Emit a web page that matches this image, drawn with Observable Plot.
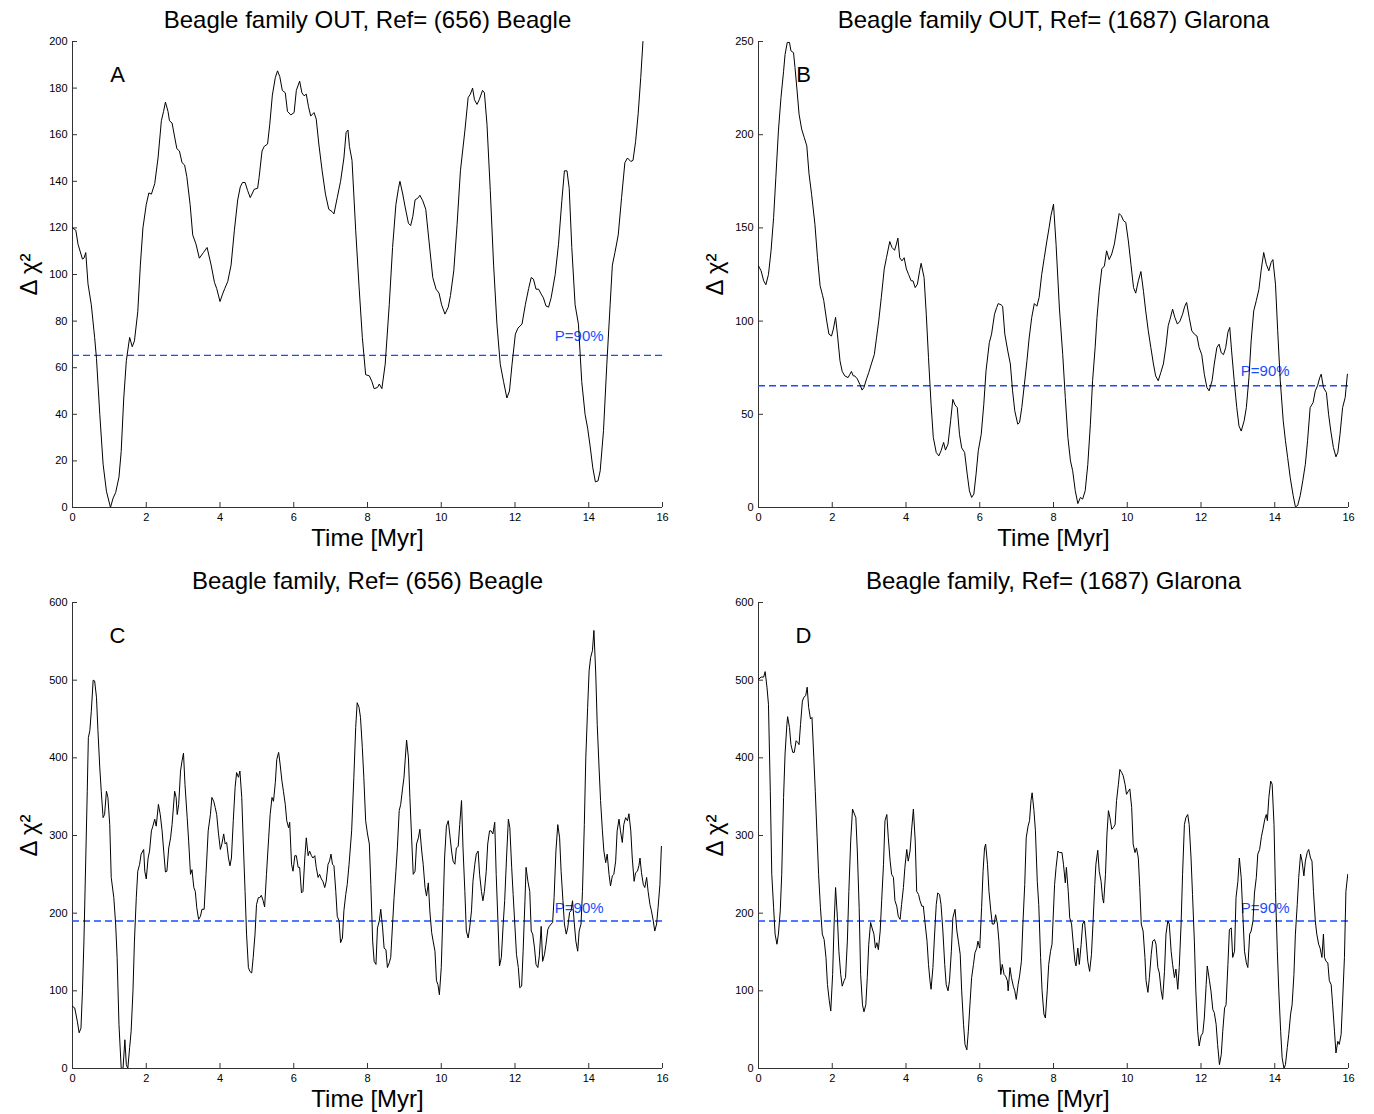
<!DOCTYPE html>
<html>
<head>
<meta charset="utf-8">
<script src="https://cdn.jsdelivr.net/npm/d3@7"></script>
<script src="https://cdn.jsdelivr.net/npm/@observablehq/plot@0.6"></script>
<style>
  html, body { margin: 0; padding: 0; background: #fff; overflow: hidden; }
  #wrap { position: relative; width: 1374px; height: 1114px; background: #fff; }
  .panel { position: absolute; }
</style>
</head>
<body>
<div id="wrap"></div>
<script>
// ---------------- DATA ----------------
const xTicks = [0, 2, 4, 6, 8, 10, 12, 14, 16];
const yTicksA = [0, 20, 40, 60, 80, 100, 120, 140, 160, 180, 200];
const yTicksB = [0, 50, 100, 150, 200, 250];
const yTicksCD = [0, 100, 200, 300, 400, 500, 600];

const titles = [
  "Beagle family OUT, Ref= (656) Beagle",
  "Beagle family OUT, Ref= (1687) Glarona",
  "Beagle family, Ref= (656) Beagle",
  "Beagle family, Ref= (1687) Glarona"
];
const letters = ["A", "B", "C", "D"];
const thresholds = [65.3, 65.3, 190, 190];   // P=90% level
const thresholdLabel = "P=90%";
const thresholdLabelTime = 13.08;

// [time (Myr), delta chi^2]
const seriesA = [[0,120],[0.09,119],[0.15,113],[0.27,106.6],[0.31,107],[0.36,109.4],[0.42,96],[0.51,87],[0.6,73],[0.65,64],[0.74,40],[0.83,18.6],[0.92,7],[1.03,0],[1.1,4],[1.17,6.4],[1.26,13],[1.32,24],[1.39,47],[1.46,63],[1.55,73],[1.62,69],[1.68,71.5],[1.77,84],[1.84,104],[1.91,120],[2.0,130],[2.07,135],[2.14,134.5],[2.23,139],[2.32,150],[2.41,166],[2.47,170],[2.52,174],[2.59,170],[2.63,166],[2.7,165],[2.77,159],[2.83,154],[2.9,153],[2.97,148],[3.04,147],[3.1,142],[3.19,130],[3.26,117],[3.35,113],[3.44,107],[3.55,109.4],[3.65,111.6],[3.76,104],[3.85,96.6],[3.91,94],[4.0,88.4],[4.07,91.6],[4.13,94],[4.21,97],[4.3,104],[4.39,119],[4.48,132],[4.55,137.6],[4.61,139.5],[4.68,139.5],[4.75,136],[4.82,133],[4.93,136.6],[5.02,137],[5.06,141.6],[5.14,153],[5.2,155],[5.29,156],[5.35,164.5],[5.42,177],[5.5,184.5],[5.56,187.4],[5.62,185],[5.69,179],[5.77,178],[5.83,170],[5.92,168.5],[6.01,169.5],[6.07,179],[6.16,183],[6.22,178],[6.28,176.7],[6.34,177.4],[6.4,172],[6.46,168],[6.55,169.5],[6.61,166.7],[6.68,156],[6.77,144.5],[6.86,134.5],[6.95,128],[7.04,127],[7.09,126],[7.18,133],[7.27,140],[7.36,150],[7.42,161],[7.47,162],[7.51,155],[7.58,149],[7.68,119],[7.77,95],[7.86,73],[7.95,57],[8.05,56.5],[8.12,54],[8.18,51],[8.27,51.5],[8.32,53],[8.39,51],[8.48,61.5],[8.59,87],[8.68,111.6],[8.77,130],[8.84,137],[8.88,140],[8.95,135],[9.02,129],[9.11,122],[9.17,121],[9.23,125],[9.29,132],[9.38,133],[9.42,134],[9.5,131.6],[9.58,128],[9.67,114],[9.77,98.7],[9.86,93.7],[9.94,92],[10.01,87],[10.1,83],[10.19,86],[10.25,91],[10.34,101.6],[10.43,121.6],[10.52,144.5],[10.64,161.6],[10.73,176],[10.79,177.4],[10.85,180],[10.9,175],[10.97,173],[11.03,175],[11.12,179],[11.17,178],[11.24,164.5],[11.33,136],[11.42,104],[11.51,78.7],[11.6,61.5],[11.69,54],[11.78,47],[11.85,50],[11.92,61.5],[12.01,74.4],[12.08,77],[12.19,78.7],[12.28,87],[12.37,94],[12.44,98.7],[12.5,98],[12.57,93.7],[12.64,93.7],[12.71,91.6],[12.77,90],[12.84,86.5],[12.91,86],[12.98,90],[13.09,100],[13.18,113],[13.27,131.6],[13.34,144.5],[13.41,144.5],[13.47,137],[13.54,111.6],[13.63,87],[13.72,78.7],[13.81,54],[13.9,40],[13.97,34],[14.04,26],[14.11,17],[14.18,11],[14.25,11.4],[14.31,15.7],[14.4,33],[14.49,61.5],[14.58,87],[14.64,104],[14.71,109.4],[14.8,117],[14.89,133],[14.98,148],[15.05,150],[15.14,148.5],[15.2,149],[15.27,157],[15.34,169],[15.41,184.5],[15.47,200]];

const seriesB = [[0,129.6],[0.07,127],[0.14,121.6],[0.2,119.5],[0.27,125],[0.34,137.7],[0.41,155.6],[0.47,177],[0.54,202],[0.61,220],[0.68,234],[0.72,243],[0.78,249.5],[0.84,249.5],[0.88,245],[0.95,244],[0.99,236],[1.04,225],[1.1,211],[1.17,203],[1.24,198.5],[1.31,194],[1.37,179],[1.44,168],[1.53,152],[1.6,134],[1.67,119],[1.74,113.6],[1.77,111],[1.85,100],[1.91,93],[1.98,92],[2.03,95.7],[2.09,102],[2.14,93],[2.21,78.7],[2.27,73],[2.34,70.6],[2.43,69.7],[2.48,71.5],[2.52,73],[2.57,70.6],[2.61,70.6],[2.68,69],[2.75,66],[2.81,63],[2.86,64.4],[2.93,69],[2.99,72.4],[3.06,77],[3.14,82],[3.2,91],[3.26,100],[3.33,112.7],[3.41,128],[3.47,134],[3.56,142.7],[3.62,139.5],[3.69,138],[3.74,141.3],[3.78,144.5],[3.83,134],[3.89,132.3],[3.95,134],[4.01,128],[4.07,125],[4.14,121.6],[4.19,121.6],[4.25,118],[4.31,119.8],[4.37,127],[4.41,131],[4.49,123.4],[4.55,103.7],[4.61,80.5],[4.68,55.4],[4.74,37.6],[4.82,29.5],[4.89,27.7],[4.95,30.4],[5.02,34.9],[5.07,30.8],[5.14,34],[5.21,46.5],[5.27,58],[5.33,55],[5.39,53.6],[5.45,39.3],[5.51,32],[5.59,29.5],[5.66,17.9],[5.72,8.9],[5.78,5.4],[5.84,7.2],[5.9,17.9],[5.96,30.4],[6.04,39.3],[6.11,55.4],[6.17,73.3],[6.26,88.5],[6.32,93],[6.4,103.7],[6.46,107.3],[6.5,109.4],[6.58,108.7],[6.62,108],[6.68,93],[6.76,84],[6.83,77],[6.89,62.6],[6.95,51.9],[7.03,44.7],[7.08,45.6],[7.14,53.6],[7.21,66],[7.28,78.7],[7.34,91],[7.41,102],[7.48,109.4],[7.55,108],[7.61,112.7],[7.68,125],[7.75,134],[7.82,143],[7.88,150],[7.93,156.5],[8.0,162.7],[8.07,141],[8.16,107],[8.25,82],[8.32,59],[8.39,37.6],[8.46,25],[8.52,19.7],[8.59,9],[8.66,2.1],[8.73,5.4],[8.79,4.5],[8.86,9],[8.93,23],[9.0,44.7],[9.06,68],[9.13,86],[9.18,102],[9.24,116],[9.31,128],[9.38,129.6],[9.44,137.7],[9.51,133],[9.58,136],[9.65,141.3],[9.72,150],[9.78,157.7],[9.84,156.5],[9.9,153.8],[9.96,153],[10.03,143],[10.1,130.5],[10.17,118],[10.23,115],[10.3,121.6],[10.37,126.6],[10.44,116],[10.5,105.5],[10.57,94.8],[10.64,85.8],[10.71,77],[10.77,70.6],[10.84,68],[10.91,72.4],[10.98,77],[11.05,86.7],[11.11,97.5],[11.16,101],[11.23,106.4],[11.29,102],[11.36,98.4],[11.43,100],[11.5,103.7],[11.56,108],[11.61,110],[11.68,102],[11.75,94.8],[11.82,93],[11.89,92],[11.95,85.8],[12.02,82],[12.09,71.5],[12.16,64.4],[12.22,62.6],[12.3,68],[12.36,77],[12.43,85.8],[12.49,87.6],[12.55,83],[12.61,82],[12.67,85.8],[12.73,94],[12.78,96.6],[12.83,84],[12.9,68],[12.97,53.6],[13.03,43.8],[13.09,41],[13.17,46.5],[13.23,53.6],[13.3,69.7],[13.36,89.4],[13.43,105.5],[13.5,111],[13.57,117],[13.63,127],[13.7,136.8],[13.77,130.5],[13.84,127],[13.9,131.4],[13.95,133],[14.02,119.8],[14.08,94.8],[14.15,68],[14.23,46.5],[14.29,35.8],[14.35,26.8],[14.42,16],[14.5,6.3],[14.56,0.4],[14.62,1],[14.69,6.3],[14.76,14.3],[14.83,23.2],[14.89,35.8],[14.96,53.6],[15.04,56.3],[15.1,62.6],[15.16,65.3],[15.22,69.7],[15.26,71.5],[15.32,64.4],[15.4,61.7],[15.46,50],[15.52,41],[15.59,32.2],[15.66,27.2],[15.71,29.5],[15.77,39.3],[15.84,53.6],[15.91,59],[15.97,71.5]];

const seriesC = [[0,80],[0.06,78],[0.13,61],[0.18,46],[0.23,52],[0.27,100],[0.31,164],[0.36,271],[0.4,357],[0.43,426],[0.47,435],[0.51,460],[0.56,500],[0.6,499],[0.65,478],[0.69,435],[0.74,387],[0.78,357],[0.83,323],[0.87,327],[0.92,357],[0.96,349],[1.01,314],[1.05,246],[1.12,220],[1.17,186],[1.21,143],[1.26,57],[1.32,1],[1.37,0],[1.42,37],[1.46,5],[1.5,0],[1.55,27],[1.59,48],[1.64,100],[1.68,164],[1.73,220],[1.77,254],[1.82,263],[1.86,276],[1.93,282],[1.96,254],[2.0,244],[2.05,271],[2.09,280],[2.14,306],[2.18,312],[2.23,321],[2.27,312],[2.33,340],[2.38,327],[2.43,306],[2.48,276],[2.52,253],[2.56,254],[2.61,284],[2.66,297],[2.7,314],[2.77,357],[2.81,349],[2.84,327],[2.88,340],[2.93,383],[2.97,396],[3.01,406],[3.05,366],[3.11,323],[3.15,293],[3.2,250],[3.24,256],[3.29,233],[3.33,228],[3.37,207],[3.42,192],[3.47,196],[3.51,205],[3.57,205],[3.62,250],[3.68,306],[3.74,327],[3.78,349],[3.83,344],[3.87,336],[3.91,327],[3.96,302],[4.01,282],[4.05,289],[4.1,302],[4.14,289],[4.18,291],[4.23,271],[4.27,261],[4.31,271],[4.36,319],[4.41,362],[4.45,381],[4.5,375],[4.54,383],[4.59,349],[4.63,293],[4.68,228],[4.72,173],[4.77,130],[4.81,125],[4.86,123],[4.9,143],[4.95,173],[4.99,211],[5.04,220],[5.08,220],[5.12,223],[5.17,216],[5.21,208],[5.26,250],[5.32,297],[5.36,327],[5.41,349],[5.45,344],[5.5,368],[5.54,398],[5.59,407],[5.63,392],[5.68,370],[5.72,357],[5.77,340],[5.81,319],[5.86,310],[5.89,317],[5.94,263],[5.98,254],[6.03,274],[6.07,274],[6.12,259],[6.16,259],[6.21,226],[6.25,228],[6.3,271],[6.34,297],[6.39,274],[6.43,280],[6.48,274],[6.52,271],[6.57,274],[6.61,259],[6.66,246],[6.7,250],[6.75,244],[6.79,241],[6.84,233],[6.88,241],[6.93,263],[6.97,267],[7.01,276],[7.05,263],[7.09,261],[7.14,228],[7.18,196],[7.23,190],[7.27,162],[7.32,168],[7.36,203],[7.41,224],[7.45,237],[7.5,263],[7.57,306],[7.63,375],[7.68,439],[7.72,471],[7.77,465],[7.81,452],[7.86,413],[7.9,375],[7.95,319],[8.0,302],[8.05,289],[8.09,237],[8.14,164],[8.18,138],[8.23,134],[8.27,181],[8.32,190],[8.36,205],[8.41,181],[8.45,155],[8.5,153],[8.54,130],[8.59,136],[8.63,143],[8.68,186],[8.72,220],[8.77,254],[8.81,284],[8.86,332],[8.9,340],[8.95,360],[8.99,375],[9.02,396],[9.06,423],[9.11,400],[9.15,349],[9.2,293],[9.24,250],[9.29,254],[9.33,289],[9.38,297],[9.42,308],[9.47,280],[9.51,263],[9.56,233],[9.6,222],[9.65,239],[9.69,203],[9.74,175],[9.78,164],[9.83,151],[9.87,113],[9.91,108],[9.95,95],[10.0,130],[10.05,207],[10.09,271],[10.14,312],[10.19,319],[10.23,302],[10.28,280],[10.32,267],[10.37,263],[10.41,284],[10.46,286],[10.5,314],[10.55,345],[10.59,284],[10.64,228],[10.68,177],[10.73,168],[10.77,181],[10.82,203],[10.86,241],[10.91,263],[10.95,276],[11.0,280],[11.04,250],[11.09,228],[11.13,216],[11.17,228],[11.22,254],[11.26,289],[11.31,306],[11.35,306],[11.4,302],[11.45,317],[11.49,250],[11.54,186],[11.58,132],[11.63,143],[11.68,186],[11.72,216],[11.77,271],[11.82,321],[11.86,310],[11.91,259],[11.95,224],[12.0,181],[12.04,147],[12.09,130],[12.13,104],[12.18,106],[12.22,151],[12.27,216],[12.3,259],[12.35,241],[12.4,228],[12.44,177],[12.48,173],[12.53,155],[12.57,134],[12.62,130],[12.66,145],[12.71,183],[12.75,138],[12.8,147],[12.84,160],[12.89,179],[12.93,183],[12.98,186],[13.02,188],[13.06,220],[13.11,280],[13.16,314],[13.21,297],[13.25,254],[13.3,216],[13.34,186],[13.39,173],[13.43,181],[13.48,201],[13.52,203],[13.56,216],[13.61,186],[13.65,164],[13.7,151],[13.74,177],[13.79,186],[13.83,228],[13.88,314],[13.92,400],[13.97,465],[14.01,512],[14.05,529],[14.1,538],[14.14,564],[14.19,508],[14.23,443],[14.28,387],[14.32,345],[14.37,306],[14.41,280],[14.46,265],[14.5,276],[14.55,250],[14.59,235],[14.64,248],[14.68,250],[14.73,267],[14.77,306],[14.82,321],[14.86,306],[14.91,291],[14.95,314],[15.0,323],[15.05,319],[15.09,328],[15.14,306],[15.18,271],[15.23,241],[15.27,252],[15.32,254],[15.36,261],[15.39,271],[15.43,252],[15.48,237],[15.52,233],[15.57,246],[15.61,228],[15.66,211],[15.7,203],[15.75,190],[15.79,177],[15.84,186],[15.88,207],[15.93,237],[15.97,286]];

const seriesD = [[0,501],[0.07,504],[0.14,504],[0.18,511],[0.23,491],[0.27,469],[0.32,357],[0.36,250],[0.41,207],[0.45,173],[0.5,160],[0.54,173],[0.59,203],[0.63,250],[0.68,349],[0.72,405],[0.77,443],[0.79,453],[0.84,439],[0.88,417],[0.93,407],[0.97,407],[1.02,422],[1.06,420],[1.1,417],[1.14,443],[1.19,473],[1.23,478],[1.28,480],[1.32,491],[1.36,465],[1.41,450],[1.45,452],[1.5,400],[1.54,357],[1.59,297],[1.63,250],[1.68,207],[1.73,173],[1.78,166],[1.83,143],[1.87,108],[1.92,87],[1.96,74],[2.01,121],[2.05,186],[2.09,233],[2.14,194],[2.18,151],[2.23,121],[2.27,106],[2.32,113],[2.36,117],[2.41,164],[2.45,228],[2.5,293],[2.55,334],[2.59,329],[2.64,323],[2.68,280],[2.73,207],[2.77,121],[2.82,82],[2.86,73],[2.91,82],[2.95,117],[2.99,160],[3.04,188],[3.08,181],[3.13,173],[3.17,155],[3.21,162],[3.25,153],[3.3,177],[3.34,216],[3.39,263],[3.43,319],[3.48,327],[3.52,297],[3.57,267],[3.61,250],[3.66,246],[3.7,216],[3.75,209],[3.79,196],[3.84,192],[3.88,211],[3.93,233],[3.97,259],[4.02,282],[4.06,267],[4.11,280],[4.15,306],[4.2,334],[4.25,293],[4.29,228],[4.34,224],[4.38,216],[4.43,209],[4.47,209],[4.52,186],[4.57,164],[4.61,134],[4.65,113],[4.68,102],[4.73,130],[4.77,168],[4.82,211],[4.86,226],[4.91,224],[4.95,211],[5.0,177],[5.05,134],[5.09,108],[5.14,100],[5.18,113],[5.23,151],[5.27,194],[5.33,205],[5.38,177],[5.42,164],[5.47,147],[5.51,100],[5.56,57],[5.6,31],[5.65,24],[5.69,48],[5.74,87],[5.78,117],[5.83,134],[5.87,149],[5.92,155],[5.95,164],[6.0,155],[6.05,207],[6.09,254],[6.13,284],[6.16,289],[6.21,263],[6.25,228],[6.3,203],[6.34,186],[6.39,186],[6.43,198],[6.48,186],[6.52,164],[6.57,121],[6.61,134],[6.66,121],[6.7,119],[6.75,113],[6.77,100],[6.82,130],[6.86,117],[6.91,106],[6.95,100],[6.99,89],[7.04,108],[7.08,119],[7.13,138],[7.17,186],[7.22,237],[7.26,297],[7.31,312],[7.35,319],[7.39,345],[7.42,355],[7.47,332],[7.51,306],[7.56,241],[7.6,211],[7.65,143],[7.69,100],[7.74,70],[7.78,65],[7.83,100],[7.87,134],[7.92,151],[7.96,160],[8.03,237],[8.07,259],[8.12,280],[8.16,278],[8.23,278],[8.27,263],[8.32,239],[8.35,259],[8.4,228],[8.44,194],[8.49,186],[8.53,164],[8.58,138],[8.61,132],[8.66,155],[8.7,134],[8.75,160],[8.79,186],[8.84,190],[8.88,168],[8.93,138],[8.98,125],[9.03,147],[9.07,186],[9.12,237],[9.15,263],[9.2,281],[9.24,254],[9.29,241],[9.33,220],[9.36,213],[9.41,250],[9.45,302],[9.49,332],[9.53,323],[9.58,308],[9.62,310],[9.67,314],[9.71,345],[9.76,366],[9.8,385],[9.85,381],[9.89,377],[9.94,366],[9.98,353],[10.03,357],[10.07,360],[10.12,336],[10.16,289],[10.21,278],[10.25,284],[10.3,271],[10.34,233],[10.38,186],[10.43,177],[10.48,143],[10.51,113],[10.56,98],[10.6,117],[10.65,147],[10.69,164],[10.74,166],[10.78,160],[10.83,130],[10.87,123],[10.92,100],[10.96,89],[11.01,125],[11.05,173],[11.1,190],[11.14,186],[11.19,151],[11.23,134],[11.28,117],[11.32,128],[11.37,102],[11.41,130],[11.46,186],[11.5,250],[11.55,314],[11.59,323],[11.64,327],[11.68,314],[11.73,271],[11.77,224],[11.82,164],[11.86,100],[11.91,48],[11.95,29],[12.0,42],[12.05,46],[12.09,65],[12.14,108],[12.17,132],[12.23,113],[12.27,100],[12.32,76],[12.36,72],[12.41,57],[12.45,31],[12.5,5],[12.55,18],[12.59,48],[12.64,78],[12.68,82],[12.73,134],[12.77,179],[12.82,181],[12.86,143],[12.91,151],[12.95,220],[13.0,241],[13.04,271],[13.09,246],[13.13,203],[13.18,151],[13.23,136],[13.27,130],[13.32,173],[13.36,177],[13.41,190],[13.45,226],[13.5,246],[13.54,276],[13.59,282],[13.64,299],[13.68,308],[13.73,321],[13.77,327],[13.8,319],[13.84,349],[13.89,370],[13.93,366],[13.98,314],[14.02,228],[14.07,151],[14.11,100],[14.16,48],[14.2,14],[14.25,0],[14.29,5],[14.34,27],[14.38,44],[14.43,70],[14.47,82],[14.52,121],[14.56,173],[14.61,211],[14.65,246],[14.7,276],[14.74,267],[14.79,248],[14.83,267],[14.88,278],[14.92,282],[14.97,271],[15.01,267],[15.05,228],[15.1,190],[15.14,173],[15.19,160],[15.23,155],[15.28,143],[15.32,173],[15.35,143],[15.39,138],[15.44,136],[15.48,113],[15.53,108],[15.57,82],[15.62,48],[15.66,20],[15.71,35],[15.75,31],[15.8,44],[15.84,87],[15.89,143],[15.93,228],[15.98,250]];

// ---------------- DRAWING ----------------
const FONT = "'Liberation Sans', Arial, Helvetica, sans-serif";
const BLUE = "#1a4cff";

function panel(series, yTicks, i, labelDy, height) {
  const yMax = yTicks[yTicks.length - 1];
  return Plot.plot({
    width: 687,
    height: height,
    marginLeft: 72,
    marginRight: 25,
    marginTop: 41,
    marginBottom: height - 507,
    style: {fontFamily: FONT, fontSize: "11px", color: "#000", background: "#fff", overflow: "visible"},
    x: {domain: [0, 16]},
    y: {domain: [0, yMax]},
    marks: [
      // tick labels
      Plot.axisX(xTicks, {label: null, tickSize: 0, tickPadding: 6, fontSize: 11}),
      Plot.axisY(yTicks, {label: null, tickSize: 0, tickPadding: 5, fontSize: 11}),
      // inward ticks
      Plot.axisX(xTicks, {label: null, text: null, tickSize: 5, dy: -5, stroke: "#333"}),
      Plot.axisY(yTicks, {label: null, text: null, tickSize: 5, dx: 5, stroke: "#333"}),
      // axis lines
      Plot.ruleX([0], {stroke: "#333"}),
      Plot.ruleY([0], {stroke: "#333"}),
      // P=90% threshold
      Plot.ruleY([thresholds[i]], {stroke: BLUE, strokeDasharray: "7,4", strokeWidth: 1.4}),
      Plot.text([thresholdLabel], {x: thresholdLabelTime, y: thresholds[i], text: d => d, dy: labelDy,
        textAnchor: "start", fill: BLUE, fontSize: 15}),
      // curve
      Plot.line(series, {x: d => d[0], y: d => d[1], stroke: "#000", strokeWidth: 1, clip: true}),
      // panel letter
      Plot.text([letters[i]], {frameAnchor: "top-left", dx: 45, dy: 33, text: d => d,
        textAnchor: "middle", lineAnchor: "middle", fontSize: 22}),
      // title
      Plot.text([titles[i]], {frameAnchor: "top", dy: -21, text: d => d,
        textAnchor: "middle", lineAnchor: "middle", fontSize: 24}),
      // axis titles
      Plot.text(["Time [Myr]"], {frameAnchor: "bottom", dy: 31, text: d => d,
        textAnchor: "middle", lineAnchor: "middle", fontSize: 24}),
      Plot.text(["Δ χ²"], {frameAnchor: "left", dx: -43, rotate: -90, text: d => d,
        textAnchor: "middle", lineAnchor: "middle", fontSize: 24})
    ]
  });
}

const wrap = document.getElementById("wrap");
const configs = [
  {s: seriesA, t: yTicksA, dy: -19, left: 0, top: 0, h: 561},
  {s: seriesB, t: yTicksB, dy: -15, left: 686, top: 0, h: 561},
  {s: seriesC, t: yTicksCD, dy: -13, left: 0, top: 561, h: 553},
  {s: seriesD, t: yTicksCD, dy: -13, left: 686, top: 561, h: 553}
];
configs.forEach((c, i) => {
  const div = document.createElement("div");
  div.className = "panel";
  div.style.left = c.left + "px";
  div.style.top = c.top + "px";
  div.appendChild(panel(c.s, c.t, i, c.dy, c.h));
  wrap.appendChild(div);
});
</script>
</body>
</html>
